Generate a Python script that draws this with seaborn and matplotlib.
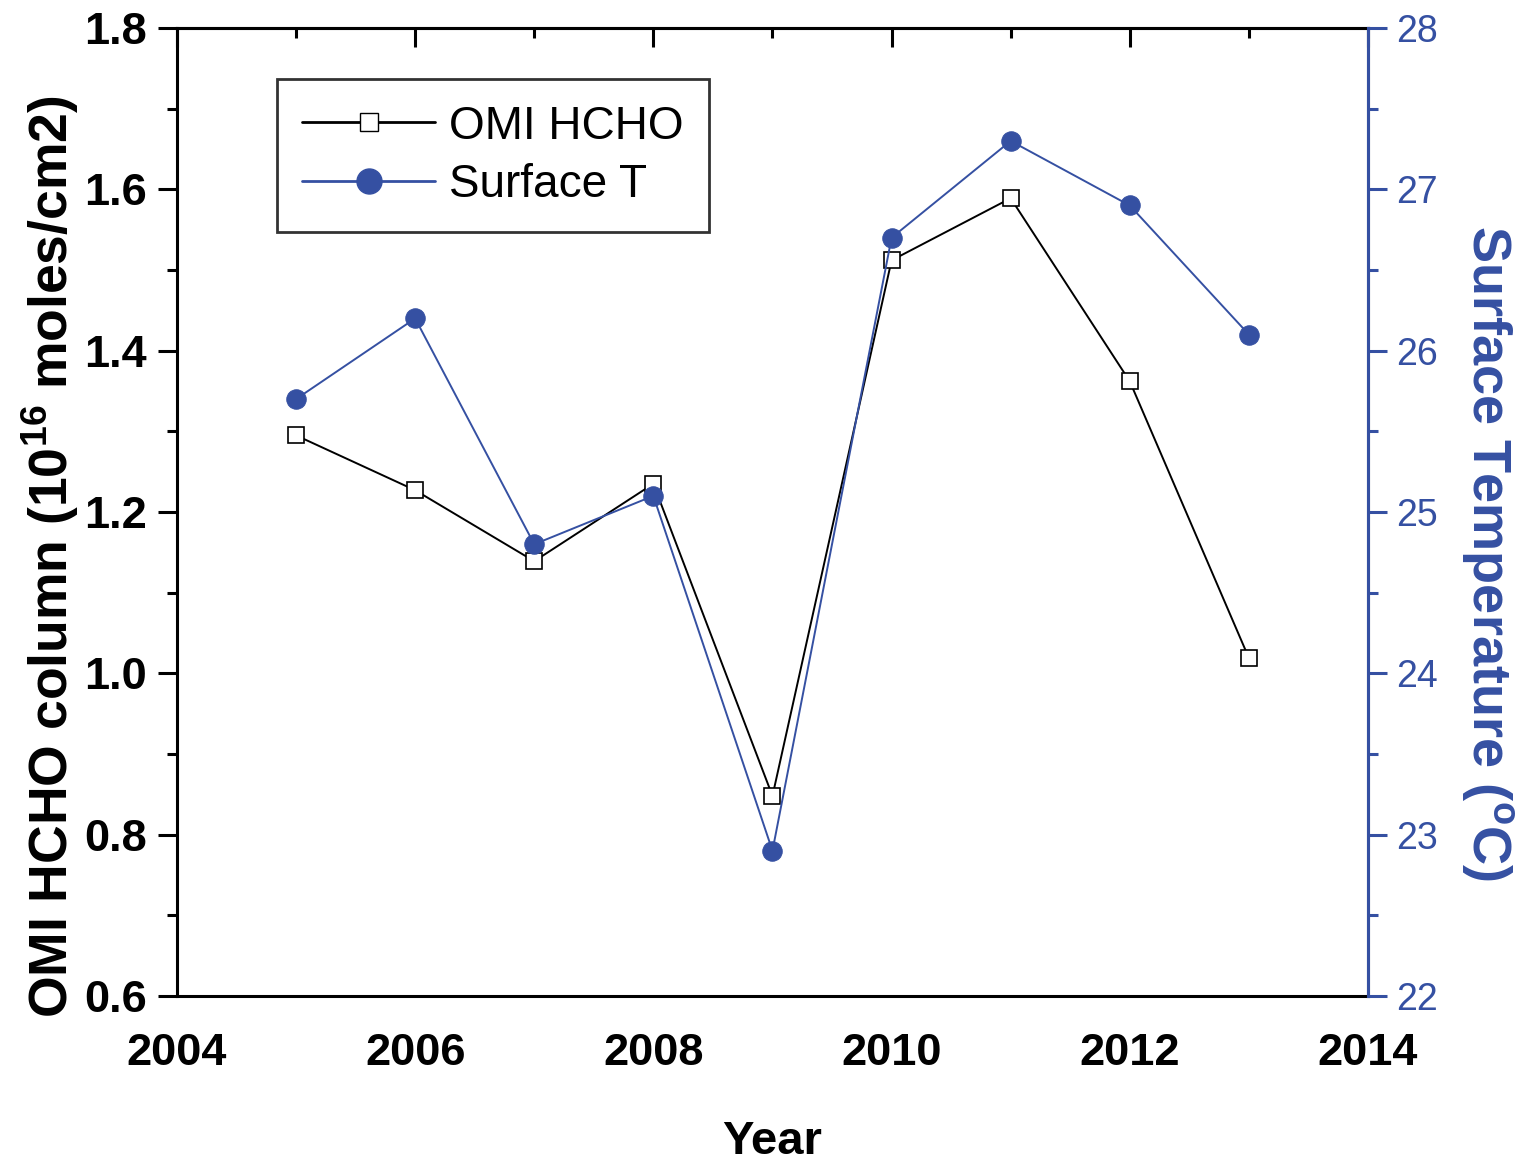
import pandas as pd
import seaborn as sns
import numpy as np
import matplotlib.pyplot as plt
import matplotlib.ticker as ticker
from matplotlib.lines import Line2D

sns.set_style('white')
plt.rcParams['font.family'] = ['Liberation Sans', 'DejaVu Sans']
plt.rcParams['mathtext.default'] = 'regular'
#文字颜色改为纯黑
plt.rcParams['text.color'] = 'black'
plt.rcParams['axes.labelcolor'] = 'black'
plt.rcParams['xtick.color'] = 'black'
plt.rcParams['ytick.color'] = 'black'

years = [2005, 2006, 2007, 2008, 2009, 2010, 2011, 2012, 2013]
hcho = [1.295, 1.227, 1.139, 1.235, 0.848, 1.512, 1.589, 1.362, 1.019]
temp = [25.7, 26.2, 24.8, 25.1, 22.9, 26.7, 27.3, 26.9, 26.1]

blue = '#3550A2'
df = pd.DataFrame({'year': years, 'hcho': hcho, 'temp': temp})

fig = plt.figure(figsize=(15.2, 11.63), dpi=100)
ax = fig.add_axes([0.1164, 0.1436, 0.7836, 0.8323])
ax2 = ax.twinx()

sns.lineplot(data=df, x='year', y='hcho', ax=ax, color='black', lw=1.4,
             marker='s', markersize=12, markerfacecolor='white',
             markeredgecolor='black', markeredgewidth=1.2)
sns.lineplot(data=df, x='year', y='temp', ax=ax2, color=blue, lw=1.4,
             marker='o', markersize=14, markerfacecolor=blue,
             markeredgecolor=blue)

#坐标范围
ax.set_xlim(2004, 2014)
ax.set_ylim(0.6, 1.8)
ax2.set_ylim(22, 28)

ax.xaxis.set_major_locator(ticker.MultipleLocator(2))
ax.xaxis.set_minor_locator(ticker.MultipleLocator(1))
ax.yaxis.set_major_locator(ticker.MultipleLocator(0.2))
ax.yaxis.set_minor_locator(ticker.MultipleLocator(0.1))
ax.yaxis.set_major_formatter(ticker.FormatStrFormatter('%.1f'))
ax2.yaxis.set_major_locator(ticker.MultipleLocator(1))
ax2.yaxis.set_minor_locator(ticker.MultipleLocator(0.5))

for sp in ax.spines.values():
    sp.set_linewidth(2.2)
    sp.set_color('black')
for sp in ax2.spines.values():
    sp.set_linewidth(2.2)
    sp.set_visible(False)
ax2.spines['right'].set_visible(True)
ax2.spines['right'].set_color(blue)

ax.tick_params(axis='both', which='major', direction='out', length=14, width=2.2,
               labelsize=32.5)
ax.tick_params(axis='both', which='minor', direction='out', length=7, width=2.2)
ax.tick_params(axis='x', which='major', pad=13)
ax.tick_params(axis='y', which='major', pad=7.5)
for lab in ax.get_xticklabels() + ax.get_yticklabels():
    lab.set_fontweight('bold')

#顶部刻度朝内
top = ax.secondary_xaxis('top')
top.xaxis.set_major_locator(ticker.MultipleLocator(2))
top.xaxis.set_minor_locator(ticker.MultipleLocator(1))
top.tick_params(which='major', direction='in', length=14, width=2.2, labeltop=False)
top.tick_params(which='minor', direction='in', length=7, width=2.2)
top.spines['top'].set_linewidth(2.2)
ax.tick_params(axis='x', which='both', top=False)

ax2.tick_params(axis='y', which='major', direction='out', length=14, width=2.2,
                colors=blue, labelsize=27, pad=6)
ax2.tick_params(axis='y', which='minor', direction='out', length=7, width=2.2,
                colors=blue)

ax.set_xlabel('Year', fontsize=34, fontweight='bold', va='center')
ax.xaxis.set_label_coords(0.5, -0.151)
ax.set_ylabel('OMI HCHO column (10$^{16}$ moles/cm2)', fontsize=38.5,
              fontweight='bold', va='center')
ax.yaxis.set_label_coords(-0.106, 0.454)
ax2.set_ylabel('Surface Temperature ($^{o}$C)', fontsize=39, fontweight='bold',
               color=blue, rotation=-90, va='center')
ax2.yaxis.set_label_coords(1.099, 0.458)

handles = [
    Line2D([], [], color='black', lw=2, marker='s', markersize=13,
           markerfacecolor='white', markeredgecolor='black'),
    Line2D([], [], color=blue, lw=2, marker='o', markersize=18,
           markerfacecolor=blue, markeredgecolor=blue),
]
leg = ax.legend(handles, ['OMI HCHO', 'Surface T'], loc='upper left',
                bbox_to_anchor=(0.084, 0.947), fontsize=33, frameon=True,
                fancybox=False, edgecolor='black', handlelength=2.9,
                borderpad=0.55, labelspacing=0.32, handletextpad=0.3,
                borderaxespad=0)
leg.get_frame().set_linewidth(2)

fig.savefig('out.png', dpi=100)
